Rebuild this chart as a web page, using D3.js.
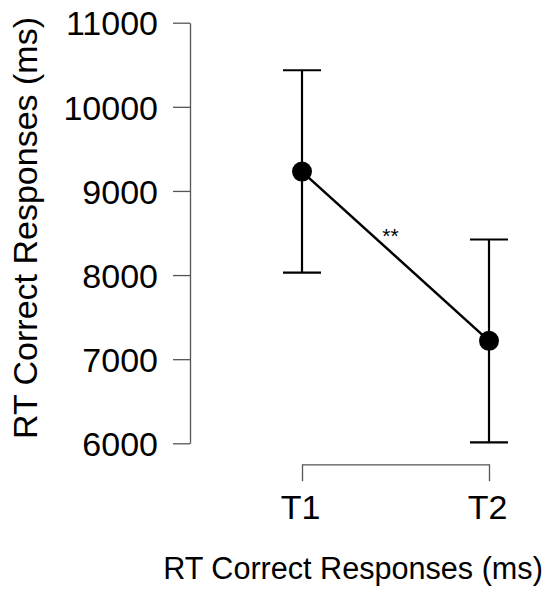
<!DOCTYPE html>
<html>
<head>
<meta charset="utf-8">
<script src="https://cdn.jsdelivr.net/npm/d3@7"></script>
<style>
  html, body { margin: 0; padding: 0; background: #fff; }
  svg { display: block; font-family: "Liberation Sans", Arial, sans-serif; }
</style>
</head>
<body>
<svg id="chart" width="549" height="590"></svg>
<script>
// Mean reaction times for correct responses at each session, with error bars
const conditions = ["T1", "T2"];
const meanRT = [9230, 7218];
const lowerRT = [8029, 6012];
const upperRT = [10435, 8423];
const yTicks = [6000, 7000, 8000, 9000, 10000, 11000];
const axisTitle = "RT Correct Responses (ms)";
const significance = "**";

const svg = d3.select("#chart");

const x = d3.scalePoint().domain(conditions).range([302, 489]);
const y = d3.scaleLinear().domain([6000, 11000]).range([443.3, 22.7]);

const axisColor = "#555";

// Y axis: ticks on the left, spine limited to the tick range
const yAxis = svg.append("g")
  .attr("transform", "translate(190,0)")
  .call(d3.axisLeft(y).tickValues(yTicks).tickSize(17).tickSizeOuter(0).tickPadding(15).tickFormat(d3.format("d")));
yAxis.select(".domain").attr("stroke", axisColor).attr("stroke-width", 1.3);
yAxis.selectAll(".tick line").attr("stroke", axisColor).attr("stroke-width", 1.3);
yAxis.selectAll(".tick text")
  .attr("fill", "#000")
  .style("font-size", "34px")
  .style("font-family", "'Liberation Sans', Arial, sans-serif")
  .attr("dy", "0.36em");

// X axis: bracket spanning the two conditions, ticks pointing down
const xAxis = svg.append("g")
  .attr("transform", "translate(0,464.3)")
  .call(d3.axisBottom(x).tickSize(17).tickSizeOuter(0).tickPadding(14));
xAxis.select(".domain").attr("stroke", axisColor).attr("stroke-width", 1.3);
xAxis.selectAll(".tick line").attr("stroke", axisColor).attr("stroke-width", 1.3);
xAxis.selectAll(".tick text")
  .attr("fill", "#000")
  .attr("dx", "-2")
  .style("font-size", "34px")
  .style("font-family", "'Liberation Sans', Arial, sans-serif");

const rows = conditions.map((c, i) => ({ c, m: meanRT[i], lo: lowerRT[i], hi: upperRT[i] }));

// Error bars with caps
const capHalf = 19;
const eb = svg.append("g").attr("stroke", "#000").attr("stroke-width", 2.2);
rows.forEach(r => {
  eb.append("line").attr("x1", x(r.c)).attr("x2", x(r.c)).attr("y1", y(r.lo)).attr("y2", y(r.hi));
  eb.append("line").attr("x1", x(r.c) - capHalf).attr("x2", x(r.c) + capHalf).attr("y1", y(r.hi)).attr("y2", y(r.hi));
  eb.append("line").attr("x1", x(r.c) - capHalf).attr("x2", x(r.c) + capHalf).attr("y1", y(r.lo)).attr("y2", y(r.lo));
});

// Connecting line between the means
svg.append("path")
  .datum(rows)
  .attr("fill", "none")
  .attr("stroke", "#000")
  .attr("stroke-width", 2.5)
  .attr("d", d3.line().x(d => x(d.c)).y(d => y(d.m)));

// Mean points
svg.append("g").selectAll("circle")
  .data(rows)
  .join("circle")
  .attr("cx", d => x(d.c))
  .attr("cy", d => y(d.m))
  .attr("r", 10)
  .attr("fill", "#000");

// Significance marker
svg.append("text")
  .attr("x", 390.5)
  .attr("y", 243)
  .attr("text-anchor", "middle")
  .style("font-size", "21px")
  .text(significance);

// Axis titles
svg.append("text")
  .attr("transform", "translate(37,228) rotate(-90)")
  .attr("text-anchor", "middle")
  .style("font-size", "34px")
  .text(axisTitle);

svg.append("text")
  .attr("x", 353)
  .attr("y", 579)
  .attr("text-anchor", "middle")
  .style("font-size", "30.6px")
  .text(axisTitle);
</script>
</body>
</html>
